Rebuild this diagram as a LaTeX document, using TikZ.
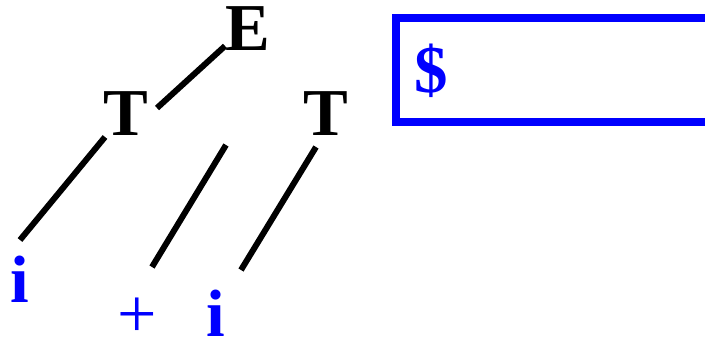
\documentclass[tikz,border=0pt]{standalone}
\usepackage{fontspec}
\setmainfont{Liberation Serif}
\definecolor{tblue}{RGB}{0,0,255}
\begin{document}
\begin{tikzpicture}[x=1pt,y=-1pt,
  nt/.style={inner sep=0pt,anchor=base,font=\fontsize{67}{67}\selectfont\bfseries},
  tm/.style={inner sep=0pt,anchor=base,text=tblue,font=\fontsize{67}{67}\selectfont\bfseries},
  edge/.style={line width=6pt,black},
  stackbox/.style={draw=tblue,line width=8pt}]
\useasboundingbox (0,0) rectangle (705,340);
\clip (0,0) rectangle (705,340);
% nodes
\node[nt] (E) at (247.5,50) {E};
\node[nt] (T1) at (126,135) {T};
\node[nt] (T2) at (326,135) {T};
\node[tm] (i1) at (19.5,302) {i};
\node[tm,font=\fontsize{70}{70}\selectfont] (plus) at (137,337) {+};
\node[tm] (i2) at (216,336) {i};
% stack
\draw[stackbox] (396,18) rectangle (730,122);
\node[tm] (dollar) at (431,92) {\$};
% connector ends
\coordinate (e1a) at (157,108);
\coordinate (e1b) at (225,46);
\coordinate (e2a) at (105,137);
\coordinate (e2b) at (20,240);
\coordinate (e3a) at (226,145);
\coordinate (e3b) at (152,267);
\coordinate (e4a) at (316,147);
\coordinate (e4b) at (241,270);
\draw[edge] (e1a) -- (e1b);
\draw[edge] (e2a) -- (e2b);
\draw[edge] (e3a) -- (e3b);
\draw[edge] (e4a) -- (e4b);
\end{tikzpicture}
\end{document}
